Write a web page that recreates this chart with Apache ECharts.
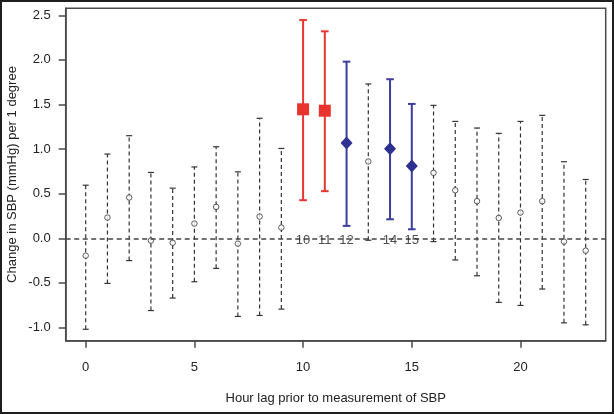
<!DOCTYPE html>
<html>
<head>
<meta charset="utf-8">
<script src="https://cdn.jsdelivr.net/npm/echarts@6/dist/echarts.min.js"></script>
<style>
html,body{margin:0;padding:0;background:#fff;}
#wrap{position:relative;width:614px;height:414px;}
#chart{width:614px;height:414px;}
#frame{position:absolute;left:0;top:0;width:614px;height:414px;box-sizing:border-box;border:2px solid #1e1e1e;pointer-events:none;}
</style>
</head>
<body>
<div id="wrap"><div id="chart"></div><div id="frame"></div></div>
<script>
// ---- data ----
const hours    = [0,1,2,3,4,5,6,7,8,9,10,11,12,13,14,15,16,17,18,19,20,21,22,23];
const estimate = [-0.195,0.232,0.457,-0.026,-0.05,0.165,0.352,-0.06,0.243,0.12,1.446,1.43,1.067,0.861,1.004,0.809,0.734,0.539,0.416,0.228,0.288,0.416,-0.037,-0.139];
const lower    = [-1.02,-0.506,-0.25,-0.81,-0.67,-0.487,-0.337,-0.876,-0.865,-0.794,0.427,0.528,0.139,-0.022,0.213,0.101,-0.037,-0.243,-0.42,-0.719,-0.753,-0.569,-0.948,-0.97];
const upper    = [0.595,0.944,1.15,0.738,0.562,0.80,1.026,0.745,1.345,1.007,2.446,2.32,1.98,1.73,1.783,1.506,1.49,1.31,1.236,1.176,1.31,1.378,0.858,0.659];
const redHours  = [10,11];
const blueHours = [12,14,15];
const labelHours = [10,11,12,14,15];
const xTicks = [0,5,10,15,20];
const yTicks = [-1.0,-0.5,0.0,0.5,1.0,1.5,2.0,2.5];
const xTitle = 'Hour lag prior to measurement of SBP';
const yTitle = 'Change in SBP (mmHg) per 1 degree';

// ---- build ----
const grayIdx = hours.map((h,i)=>i).filter(i=>!redHours.includes(hours[i]) && !blueHours.includes(hours[i]));
const redIdx  = hours.map((h,i)=>i).filter(i=>redHours.includes(hours[i]));
const blueIdx = hours.map((h,i)=>i).filter(i=>blueHours.includes(hours[i]));
const barData = idx => idx.map(i=>[hours[i], lower[i], upper[i]]);
const ptData  = idx => idx.map(i=>[hours[i], estimate[i]]);

function errRender(color, width, dash, capHalf){
  return function(params, api){
    const x = api.value(0), lo = api.value(1), hi = api.value(2);
    const a = api.coord([x, lo]), b = api.coord([x, hi]);
    const capStyle = {stroke: color, lineWidth: width};
    return {type:'group', children:[
      {type:'line', shape:{x1:a[0], y1:a[1], x2:b[0], y2:b[1]}, style:{stroke:color, lineWidth:width, lineDash:dash}},
      {type:'line', shape:{x1:a[0]-capHalf, y1:a[1], x2:a[0]+capHalf, y2:a[1]}, style:capStyle},
      {type:'line', shape:{x1:b[0]-capHalf, y1:b[1], x2:b[0]+capHalf, y2:b[1]}, style:capStyle}
    ]};
  };
}

const font = 'Liberation Sans, Arial, sans-serif';
const axisColor = '#4a4a4a';

const chart = echarts.init(document.getElementById('chart'));
chart.setOption({
  animation:false,
  grid:{left:65.7, top:8.3, right:8.3, bottom:73.3, outerBoundsMode:'none', containLabel:false, show:true, borderColor:axisColor, borderWidth:1.5},
  xAxis:{
    type:'value', min:-0.92, max:23.92,
    name:xTitle, nameLocation:'middle', nameGap:51, nameMoveOverlap:false,
    nameTextStyle:{fontFamily:font, fontSize:13, color:'#222'},
    axisLine:{show:true, onZero:false, lineStyle:{color:axisColor, width:1.5}},
    axisTick:{show:true, customValues:xTicks, length:7, lineStyle:{color:axisColor, width:1.5}},
    axisLabel:{customValues:xTicks, margin:20, fontFamily:font, fontSize:13, color:'#222'},
    splitLine:{show:false}
  },
  yAxis:{
    type:'value', min:-1.148, max:2.578,
    name:yTitle, nameLocation:'middle', nameGap:47, nameRotate:90, nameMoveOverlap:false,
    nameTextStyle:{fontFamily:font, fontSize:13, color:'#222'},
    axisLine:{show:true, onZero:false, lineStyle:{color:axisColor, width:1.5}},
    axisTick:{show:true, customValues:yTicks, length:7, lineStyle:{color:axisColor, width:1.5}},
    axisLabel:{customValues:yTicks, margin:15, fontFamily:font, fontSize:13, color:'#222', formatter:v=>v.toFixed(1)},
    splitLine:{show:false}
  },
  series:[
    {type:'custom', renderItem:errRender('#333', 1.2, [4,3], 3), data:barData(grayIdx), z:2,
     markLine:{silent:true, symbol:'none', label:{show:false}, lineStyle:{color:'#444', width:1.6, type:[5,3.5]}, data:[{yAxis:0}]}},
    {type:'custom', renderItem:errRender('#e8362e', 2, null, 3.8), data:barData(redIdx), z:3},
    {type:'custom', renderItem:errRender('#3c3ca0', 2, null, 3.8), data:barData(blueIdx), z:3},
    {type:'scatter', data:ptData(grayIdx), symbol:'circle', symbolSize:5.5, itemStyle:{color:'#fff', borderColor:'#333', borderWidth:1}, z:4},
    {type:'scatter', data:ptData(redIdx), symbol:'rect', symbolSize:12, itemStyle:{color:'#e8332e', opacity:1}, z:4},
    {type:'scatter', data:ptData(blueIdx), symbol:'diamond', symbolSize:[12,13], itemStyle:{color:'#2e3192', opacity:1}, z:4},
    {type:'scatter', data:labelHours.map(h=>[h,0]), symbolSize:1, itemStyle:{color:'transparent'}, z:5,
     label:{show:true, position:'inside', offset:[0,2], formatter:p=>String(p.value[0]), fontFamily:font, fontSize:13, color:'#222'}}
  ]
});
</script>
</body>
</html>
